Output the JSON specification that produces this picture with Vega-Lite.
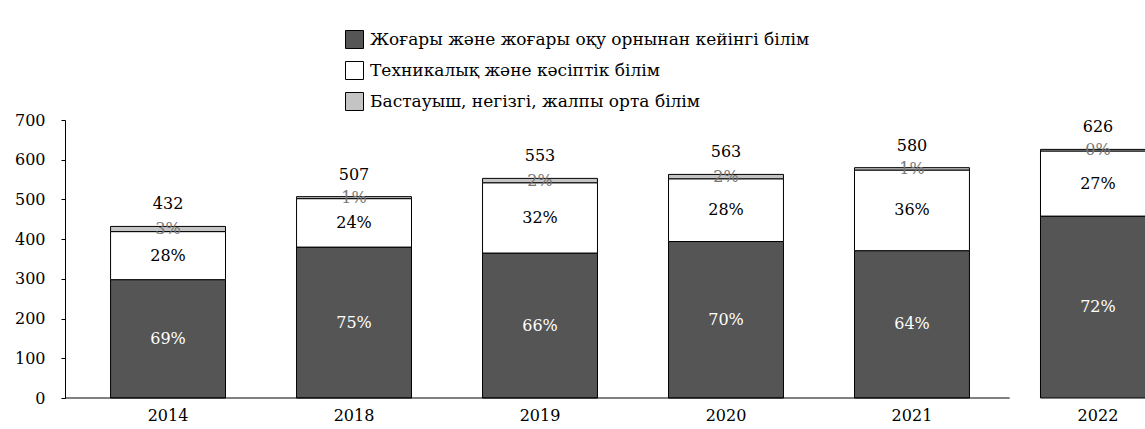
{
  "$schema": "https://vega.github.io/schema/vega-lite/v6.json",
  "width": 1080,
  "height": 278,
  "autosize": {"type": "none"},
  "padding": {"left": 65, "top": 120, "right": 0, "bottom": 31},
  "background": "white",
  "config": {
    "view": {"stroke": null},
    "font": "DejaVu Serif",
    "text": {"font": "DejaVu Serif"},
    "axis": {"labelFont": "DejaVu Serif", "labelColor": "black", "domainColor": "black", "tickColor": "black", "grid": false, "title": null},
    "axisY": {"values": [0, 100, 200, 300, 400, 500, 600, 700], "labelFontSize": 16, "tickSize": 4, "labelPadding": 16, "labelOverlap": false},
    "legend": {"labelFont": "DejaVu Serif"}
  },
  "datasets": {
    "seg": [
      {"year": "2014", "cat": "Жоғары және жоғары оқу орнынан кейінгі білім", "o": 1, "value": 298, "label": "69%"},
      {"year": "2014", "cat": "Техникалық және кәсіптік білім", "o": 2, "value": 121, "label": "28%"},
      {"year": "2014", "cat": "Бастауыш, негізгі, жалпы орта білім", "o": 3, "value": 13, "label": "3%"},
      {"year": "2018", "cat": "Жоғары және жоғары оқу орнынан кейінгі білім", "o": 1, "value": 380, "label": "75%"},
      {"year": "2018", "cat": "Техникалық және кәсіптік білім", "o": 2, "value": 122, "label": "24%"},
      {"year": "2018", "cat": "Бастауыш, негізгі, жалпы орта білім", "o": 3, "value": 5, "label": "1%"},
      {"year": "2019", "cat": "Жоғары және жоғары оқу орнынан кейінгі білім", "o": 1, "value": 365, "label": "66%"},
      {"year": "2019", "cat": "Техникалық және кәсіптік білім", "o": 2, "value": 177, "label": "32%"},
      {"year": "2019", "cat": "Бастауыш, негізгі, жалпы орта білім", "o": 3, "value": 11, "label": "2%"},
      {"year": "2020", "cat": "Жоғары және жоғары оқу орнынан кейінгі білім", "o": 1, "value": 394, "label": "70%"},
      {"year": "2020", "cat": "Техникалық және кәсіптік білім", "o": 2, "value": 158, "label": "28%"},
      {"year": "2020", "cat": "Бастауыш, негізгі, жалпы орта білім", "o": 3, "value": 11, "label": "2%"},
      {"year": "2021", "cat": "Жоғары және жоғары оқу орнынан кейінгі білім", "o": 1, "value": 371, "label": "64%"},
      {"year": "2021", "cat": "Техникалық және кәсіптік білім", "o": 2, "value": 203, "label": "36%"},
      {"year": "2021", "cat": "Бастауыш, негізгі, жалпы орта білім", "o": 3, "value": 6, "label": "1%"},
      {"year": "2022", "cat": "Жоғары және жоғары оқу орнынан кейінгі білім", "o": 1, "value": 458, "label": "72%"},
      {"year": "2022", "cat": "Техникалық және кәсіптік білім", "o": 2, "value": 164, "label": "27%"},
      {"year": "2022", "cat": "Бастауыш, негізгі, жалпы орта білім", "o": 3, "value": 4, "label": "0%"}
    ],
    "tot": [
      {"year": "2014", "total": 432},
      {"year": "2018", "total": 507},
      {"year": "2019", "total": 553},
      {"year": "2020", "total": 563},
      {"year": "2021", "total": 580},
      {"year": "2022", "total": 626}
    ]
  },
  "encoding": {
    "x": {
      "field": "year", "type": "ordinal",
      "scale": {"range": [0, 1136], "paddingInner": 0.382, "paddingOuter": 0.245},
      "axis": {"labelAngle": 0, "labelFontSize": 16, "labelPadding": 9, "ticks": false, "domain": false}
    }
  },
  "layer": [
    {
      "data": {"name": "seg"},
      "transform": [
        {"stack": "value", "groupby": ["year"], "sort": [{"field": "o", "order": "ascending"}], "as": ["v0", "v1"]},
        {"calculate": "(datum.v0 + datum.v1) / 2", "as": "mid"}
      ],
      "layer": [
        {
          "mark": {"type": "bar", "stroke": "black", "strokeWidth": 1},
          "encoding": {
            "y": {
              "field": "v0", "type": "quantitative",
              "scale": {"domain": [0, 700], "nice": false}
            },
            "y2": {"field": "v1"},
            "fill": {
              "field": "cat", "type": "nominal",
              "scale": {
                "domain": ["Жоғары және жоғары оқу орнынан кейінгі білім", "Техникалық және кәсіптік білім", "Бастауыш, негізгі, жалпы орта білім"],
                "range": ["#555555", "#ffffff", "#c4c4c4"]
              },
              "legend": {
                "title": null, "orient": "none", "legendX": 280, "legendY": -90, "direction": "vertical",
                "symbolType": "square", "symbolSize": 324, "symbolStrokeColor": "black", "symbolStrokeWidth": 1,
                "labelFontSize": 17, "labelColor": "black", "rowPadding": 8, "labelOffset": 6, "labelLimit": 700
              }
            }
          }
        },
        {
          "mark": {"type": "text", "fontSize": 16, "baseline": "middle"},
          "encoding": {
            "y": {"field": "mid", "type": "quantitative", "scale": {"domain": [0, 700], "nice": false}},
            "text": {"field": "label"},
            "color": {
              "condition": [
                {"test": "datum.o === 1", "value": "white"},
                {"test": "datum.o === 3", "value": "#777777"}
              ],
              "value": "black"
            }
          }
        }
      ]
    },
    {
      "data": {"name": "tot"},
      "mark": {"type": "text", "baseline": "bottom", "dy": -14, "fontSize": 16, "color": "black"},
      "encoding": {
        "y": {"field": "total", "type": "quantitative", "scale": {"domain": [0, 700], "nice": false}},
        "text": {"field": "total"}
      }
    },
    {
      "data": {"values": [{}]},
      "mark": {"type": "rule", "color": "black", "strokeWidth": 1},
      "encoding": {
        "x": {"datum": "2014", "type": "ordinal", "bandPosition": -0.396},
        "x2": {"datum": "2021", "bandPosition": 1.35},
        "y": {"datum": 0, "type": "quantitative", "scale": {"domain": [0, 700], "nice": false}}
      }
    }
  ]
}
